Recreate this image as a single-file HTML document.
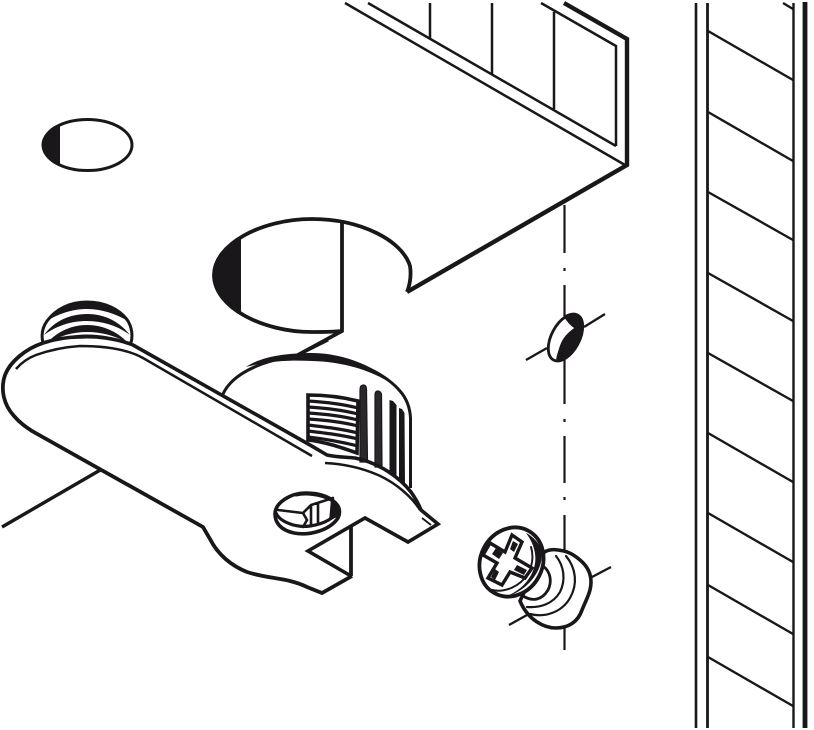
<!DOCTYPE html>
<html>
<head>
<meta charset="utf-8">
<style>
html,body{margin:0;padding:0;background:#fff;}
svg{display:block;}
</style>
</head>
<body>
<svg width="814" height="730" viewBox="0 0 814 730" xmlns="http://www.w3.org/2000/svg" fill="none" stroke="#1a171b" stroke-linecap="round" stroke-linejoin="miter">
<rect x="0" y="0" width="814" height="730" fill="#fff" stroke="none"/>

<!-- right strip -->
<g stroke-linecap="butt">
<path d="M696 3V728" stroke-width="2.6"/>
<path d="M707.5 3V728" stroke-width="2.8"/>
<path d="M793.5 3V728" stroke-width="2.4"/>
<path d="M805 2V728" stroke-width="4.8"/>
<g stroke-width="2.4">
<path d="M783 3L793 9"/>
<path d="M708 31L793 80"/>
<path d="M708 112L793 161"/>
<path d="M708 192L793 240"/>
<path d="M708 273L793 321"/>
<path d="M708 353L793 401"/>
<path d="M708 433L793 482"/>
<path d="M708 513L793 562"/>
<path d="M708 585L793 634"/>
<path d="M708 657L793 706"/>
</g>
</g>

<!-- top box -->
<g stroke-width="2.5" stroke-linecap="butt">
<path d="M345 3L625 165"/>
<path d="M368 3L616 146"/>
<path d="M430 3V39"/>
<path d="M492 3V74"/>
<path d="M554 12V109"/>
<path d="M541 3L616 46V146"/>
</g>
<path d="M564 3L627 39V165L407 292" stroke-width="4.4" stroke-linecap="butt"/>

<!-- dash-dot axis -->
<g stroke-width="2.2" stroke-linecap="butt">
<path d="M564.5 205V253M564.5 268V271M564.5 285V316M564.5 360V404M564.5 419V422M564.5 436V483M564.5 497V500M564.5 515V550M564.5 627V650"/>
</g>

<!-- small ellipse -->
<path d="M60 124C48 127 43 137 43 145C43 154 49 163 60 166Z" fill="#1a171b" stroke="none"/>
<ellipse cx="87.5" cy="145" rx="44.5" ry="25.5" stroke-width="3"/>

<!-- big hole -->
<path d="M241 239C222 248 214 262 214 275C214 289 224 304 241 313Z" fill="#1a171b" stroke="none"/>
<path d="M407 292C411 282 411 272 410 266C402 240 360 219 312 219C260 219 214 245 214 275C214 307 262 332 312 332C322 332 333 332 342 331" stroke-width="3.8" stroke-linecap="butt"/>
<path d="M342 220V331L296 356" stroke-width="3.8" stroke-linecap="butt"/>

<!-- pin hole -->
<path d="M526 360L547 348M584 327L605 314" stroke-width="2.4" stroke-linecap="butt"/>
<ellipse cx="565.5" cy="337.500" rx="25.5" ry="14" transform="rotate(-62 565.5 337.5)" fill="#fff" stroke-width="2.8"/>
<path d="M564 316C572 312 583 315 583 326C583 340 572 360 558 361C555 361 558 354 560 347C563 338 568 333 575 328C570 325 567 321 564 316Z" fill="#1a171b" stroke="#1a171b" stroke-width="1"/>

<!-- line under arm -->
<path d="M2 527L102 469" stroke-width="3.4" stroke-linecap="butt"/>

<!-- threads -->
<path d="M43 343C41 335 42 328 47 321C56 309 70 302 87 302C104 302 120 309 128 321C132 328 133 335 131 343Z" fill="#fff" stroke-width="3"/>
<path d="M47 321C56 307 70 302 87 302C104 302 118 307 128 321C116 314 102 309 87 309C72 309 58 314 47 321Z" fill="#1a171b" stroke="none"/>
<path d="M44 335C54 321 70 314 87 314C104 314 119 321 130 335C118 326 103 321 87 321C71 321 56 326 44 335Z" fill="#1a171b" stroke="none"/>
<path d="M47 343C58 331 72 325 87 325C102 325 117 331 128 343C116 336 102 332 87 332C73 332 59 336 47 343Z" fill="#1a171b" stroke="none"/>
<path d="M50 343C62 338 76 336 87 336C99 336 112 338 124 343" stroke-width="3"/>

<!-- cylinder -->
<path d="M223 394C229 380 245 366 270 360C285 356 300 355 318 356C350 357 385 370 401 390C407 398 410 408 410 417V488L320 455L223 394Z" fill="#fff" stroke="none"/>
<path d="M223 394C229 381 243 371 262 364C278 358 295 356 312 356C345 356 382 370 400 391C407 399 410 408 410.5 418V488" stroke-width="3" stroke-linecap="butt"/>
<path d="M246 367C262 356 288 353 312 353C342 353 378 366 399 389C380 374 350 362 312 361C290 360 268 361 246 367Z" fill="#1a171b" stroke="none"/>
<path d="M296 356L328 340" stroke-width="3.2" stroke-linecap="butt"/>

<!-- ribs -->
<g stroke-linecap="butt">
<path d="M363.5 385C361 385 360 387 360 390V462H367.500L366.500 390C366.500 387 365.500 385 363.5 385Z" fill="#2a282b" stroke="#1a171b" stroke-width="1.2"/>
<path d="M378 391C376 391 375 392 375 395V467H382L381.500 395C381.500 393 380 391 378 391Z" fill="#2a282b" stroke="#1a171b" stroke-width="1.2"/>
<path d="M393 401L389.5 400V472L396.500 477V405Z" fill="#1a171b" stroke="none"/>
<path d="M402 409L399 408V479L405 486L404.500 413Z" fill="#1a171b" stroke="none"/>
</g>

<!-- grid rect -->
<path d="M308 395C325 395 342 397 358 401L357 453C340 447 325 442 308 440Z" fill="#fff" stroke="#1a171b" stroke-width="3.6" stroke-linecap="butt"/>
<g stroke-width="3.2" stroke-linecap="butt">
<path d="M308 401C325 402 342 404 358 408"/>
<path d="M308 407C325 408 342 410 358 414"/>
<path d="M308 413C325 414 342 416 358 420"/>
<path d="M308 419C325 420 342 422 358 426"/>
<path d="M308 425C325 427 342 429 358 433"/>
<path d="M308 431C325 433 342 435 358 439"/>
<path d="M308 437C325 439 342 442 358 446"/>
</g>

<!-- arm -->
<path d="M43 343C25 349 10 362 5 375C0 390 4 405 14 416C20 423 26 427 32 431L203 527L210 539C218 555 232 566 247 572C262 577 278 578 290 581C298 583 303 585 307 587L322 593L352 576L351 527L365 518L408 542L438 524C432 519 426 514 421 508C417 498 410 490 403 485C390 476 370 467 345 461C335 459 328 455 322 451L133 345C115 338 95 336 80 337C68 337 55 339 43 343Z" fill="#fff" stroke="none"/>
<path d="M43 343C25 349 10 362 5 375C0 390 4 405 14 416C20 423 26 427 32 431L203 527L210 539C218 555 232 566 247 572C262 577 278 578 290 581C298 583 303 585 307 587L322 593L352 576" stroke-width="3.8" stroke-linecap="butt"/>
<path d="M43 343C55 339 68 337 80 337C95 336 115 338 133 345L310 445L327 455C335 457 345 457 355 458C380 463 400 478 411 492C416 499 419 505 421 510L438 524L408 542L365 518L308 551L351 576" stroke-width="3.6" stroke-linecap="butt"/>
<path d="M351 527V576" stroke-width="3.8" stroke-linecap="butt"/>
<path d="M16 369C22 362 28 358 36 355C50 350 65 347 80 346C100 346 125 348 143 358L312 456" stroke-width="2.5" stroke-linecap="butt"/>
<path d="M325 463C345 464 362 468 378 475C396 483 412 497 420 510" stroke-width="2.5" stroke-linecap="butt"/>
<path d="M422 518L431 525" stroke-width="1.8" stroke-linecap="butt"/>

<!-- small screw -->
<path d="M275 514C275 522 280 530 294 533C310 536 330 530 338 518C340 514 340 510 338 506C332 497 320 493 306 493C290 493 275 503 275 514Z" fill="#fff" stroke-width="3.6" stroke-linecap="butt"/>
<path d="M276 513C280 522 296 528 310 526C324 524 336 518 339 508" stroke-width="3.2"/>
<path d="M278 510L303 513L311 505L333 498M311 505V526M303 513L307 520L303 527M318 503V522" stroke-width="2.6"/>
<path d="M331 499C338 503 341 510 339 516L329 521Z" fill="#1a171b" stroke="none"/>
<path d="M296 495C305 493 320 494 331 500" stroke-width="3"/>

<!-- screw + washer -->
<path d="M509 625L527 615M592 577L611 567" stroke-width="2.4" stroke-linecap="butt"/>
<path d="M520 601C528 620 544 628 556 628C568 628 578 622 582 610C586 600 591 592 591 582C591 572 586 565 580 560C572 553 566 551 558 550C552 549 547 550 543 553L520 601Z" fill="#fff" stroke-width="3.6" stroke-linecap="butt"/>
<path d="M566 556C576 568 578 584 570 598C562 612 545 618 530 614" stroke-width="2.2"/>
<path d="M556 556C564 566 566 580 560 592C553 604 540 608 527 607" stroke-width="2.2"/>
<path d="M543 566C551 572 552 582 548 590C542 600 533 602 523 596" stroke-width="2.8"/>
<ellipse cx="511.500" cy="562" rx="31" ry="35.5" transform="rotate(28 511.500 562)" fill="#fff" stroke-width="3.8"/>
<path d="M526 533C534 537 541 545 542 553C542 566 536 577 526 586C520 591 513 595 507 596C517 592 527 584 532 573C538 561 536 546 526 533Z" fill="#1a171b" stroke="none"/>
<path d="M492 590C505 593 520 586 527 575C532 567 534 557 531 547" stroke-width="2"/>
<path d="M490 543L505 552L512 535L522 542L515 558L532 568L525 578L510 572L502 585L488 578L497 563L483 555Z" fill="#fff" stroke-width="3.4"/>
<path d="M496 548L503 553L499 559L492 554ZM513 541L518 544L514 552L510 549ZM517 565L527 570L524 575L514 570ZM495 569L499 572L495 580L491 577Z" fill="#1a171b" stroke="none"/>
</svg>
</body>
</html>
